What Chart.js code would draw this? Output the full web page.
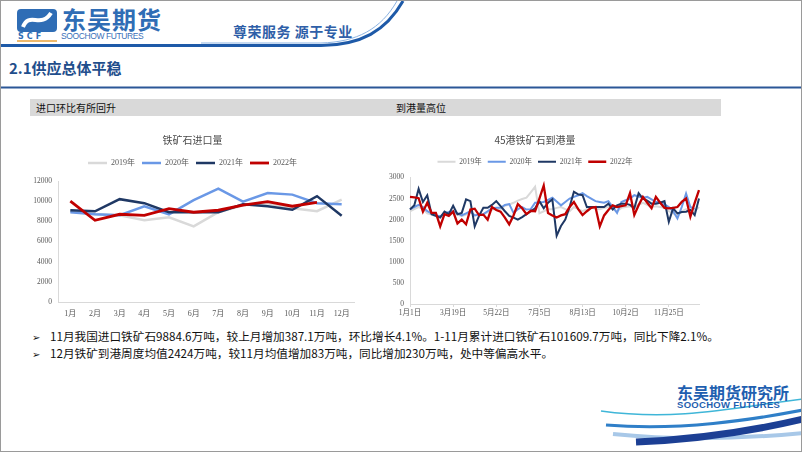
<!DOCTYPE html>
<html><head><meta charset="utf-8">
<script src="https://cdn.jsdelivr.net/npm/chart.js@4.4.0/dist/chart.umd.min.js"></script>
<style>
body{margin:0;background:#fff;}
#slide{position:relative;width:802px;height:452px;overflow:hidden;background:#fff;font-family:'Noto Sans CJK SC',sans-serif;box-sizing:border-box;border:1px solid #9a9a9a;}
.abs{position:absolute;white-space:nowrap;}
.bar{position:absolute;left:29px;top:98px;width:691px;height:17px;background:#D9D9D9;}
.bartxt{position:absolute;top:98px;font-size:10px;line-height:17px;color:#111;}
.bul{position:absolute;left:31px;font-size:11.65px;line-height:16px;color:#111;}
.bul span.m{font-family:'DejaVu Sans';font-size:10px;display:inline-block;width:18px;}
canvas{display:block;}
</style></head><body>
<div id="slide">
<svg class="abs" style="left:0;top:0" width="802" height="452">
  <path d="M0,44.5 L320,44.5 C360,44 385,30 402,0" stroke="#1E5AA8" stroke-width="3" fill="none"/>
  <path d="M200,42 L320,42 C356,41 380,28 396,0" stroke="#8DB4E2" stroke-width="1" fill="none"/>
  <line x1="0" y1="86.5" x2="802" y2="86.5" stroke="#2B5797" stroke-width="2"/>
  <rect x="16" y="8" width="40" height="23" rx="4" fill="#2F6DB5"/>
  <path d="M22,26 C28,10 40,28 50,12" stroke="#fff" stroke-width="4" fill="none"/>
  <text x="17" y="38" font-size="8" font-weight="bold" fill="#2F6DB5" font-family="DejaVu Sans" letter-spacing="3">SCF</text>
  <line x1="16" y1="40" x2="56" y2="40" stroke="#E8A23A" stroke-width="1.5"/>
  <path d="M600,410 C680,421 740,405 802,398" stroke="#3FB6D8" stroke-width="1.5" fill="none"/>
  <path d="M605,424 C680,430 750,419 802,409" stroke="#2F7FC8" stroke-width="3" fill="none"/>
  <path d="M612,433 C690,441 760,436 802,432" stroke="#A8C8E8" stroke-width="4" fill="none"/>
  <path d="M635,441 C705,438 760,428 802,418" stroke="#1C3F94" stroke-width="7" fill="none"/>
</svg>
<div class="abs" style="left:61px;top:3px;font-size:24px;font-weight:bold;color:#2F6DB5;line-height:30px;letter-spacing:1px;">东吴期货</div>
<div class="abs" style="left:60px;top:30px;font-size:8.5px;color:#3B70B8;font-family:'Liberation Sans';letter-spacing:-0.4px;line-height:10px;">SOOCHOW FUTURES</div>
<div class="abs" style="left:232px;top:21px;font-size:14px;font-weight:bold;color:#2F5FA8;line-height:18px;letter-spacing:0.5px;">尊荣服务 源于专业</div>
<div class="abs" style="left:8px;top:57px;font-size:15px;font-weight:bold;color:#1F4E8C;line-height:20px;">2.1供应总体平稳</div>
<div class="bar"></div>
<div class="bartxt" style="left:35px;">进口环比有所回升</div>
<div class="bartxt" style="left:395px;">到港量高位</div>
<div class="abs" style="left:30px;top:126px;width:335px;height:193px;"><canvas id="c1"></canvas></div>
<div class="abs" style="left:370px;top:126px;width:340px;height:195px;"><canvas id="c2"></canvas></div>
<div class="bul" style="top:327px;"><span class="m">➢</span>11月我国进口铁矿石9884.6万吨，较上月增加387.1万吨，环比增长4.1%。1-11月累计进口铁矿石101609.7万吨，同比下降2.1%。</div>
<div class="bul" style="top:344px;"><span class="m">➢</span>12月铁矿到港周度均值2424万吨，较11月均值增加83万吨，同比增加230万吨，处中等偏高水平。</div>
<div class="abs" style="left:676px;top:382px;font-size:16px;font-weight:bold;color:#1F5FB0;line-height:18px;">东吴期货研究所</div>
<div class="abs" style="left:676px;top:399px;font-size:9.5px;font-weight:bold;color:#1F5FB0;font-family:'Liberation Sans';line-height:10px;letter-spacing:0.3px;">SOOCHOW FUTURES</div>
</div>
<script>
// ---- Data ----
const seriesNames = ['2019年', '2020年', '2021年', '2022年'];
const months = ['1月','2月','3月','4月','5月','6月','7月','8月','9月','10月','11月','12月'];
const import2019 = [9000, 8700, 8600, 8100, 8400, 7500, 8900, 9600, 9800, 9300, 9000, 10150];
const import2020 = [8900, 8700, 8600, 9500, 8700, 10100, 11250, 9950, 10800, 10650, 9800, 9700];
const import2021 = [9100, 9000, 10200, 9800, 8900, 8900, 8900, 9700, 9500, 9150, 10500, 8550];
const import2022 = [10000, 8100, 8700, 8600, 9250, 8900, 9100, 9600, 9950, 9500, 9885, null];

const portTickLabels = ['1月1日','3月19日','5月22日','7月5日','8月13日','10月2日','11月25日'];
const port2019 = [2200,2250,2300,2250,2150,2120,2080,2060,2120,2150,2180,2120,2080,2120,2180,2100,2120,2120,2180,2240,2260,2250,2330,2360,2400,2450,2490,2520,2650,2780,2150,2200,2250,2250,2280,2300,2250,2200,2300,2250,2200,2250,2280,2260,2250,2280,2300,2250,2200,2280,2300,2320,2300,2350,2400,2350,2300,2320,2300,2280,2200,2150,2100,2200,2250,2150,2200,2300];
const port2020 = [2250,2300,2350,2300,2200,2150,2100,2080,2150,2180,2200,2150,2100,2150,2200,2100,2120,2130,2200,2270,2280,2280,2350,2370,2160,2250,2300,2240,2250,2400,2410,2420,2470,2520,2430,2340,2420,2500,2540,2580,2630,2560,2500,2440,2420,2400,2440,2300,2160,2420,2460,2500,2580,2550,2520,2540,2480,2420,2420,2360,2300,2200,2030,2300,2620,2300,2250,null];
const port2021 = [2240,2340,2730,2420,2580,2130,2090,2050,2190,2130,2330,2130,2160,2480,2440,1840,2090,2280,2280,2350,2440,2320,2200,2090,2050,2000,2060,2130,2200,2270,2440,2270,2400,2480,1620,1850,2000,2300,2660,2600,2580,2300,2300,2300,2300,2300,2380,2240,2340,2380,2380,2350,2270,2630,2500,2450,2380,2380,2400,2440,1950,2270,2150,2180,2190,2230,2110,2500];
const port2022 = [2540,2530,2510,2190,2400,2160,2160,1840,2130,2090,2190,1910,2000,1890,2240,2260,2110,2120,2000,2300,2230,2190,2050,1890,2100,2370,2270,2130,2210,2200,2500,2810,2160,2100,2050,2100,2130,2300,2420,2250,2110,2200,2280,2300,1840,2100,2230,2340,2300,2320,2340,2630,2110,2340,2540,2400,2270,2540,2400,2280,2270,2280,2300,2420,2500,2070,2400,2700];
const portWeeks = port2022.map((_, i) => i);

const colors = ['#D9D9D9', '#6A98E6', '#1F3864', '#C00000'];
const serif = "'Liberation Serif', 'Noto Sans CJK SC', serif";

// extra space under legend
const legendGap = {
  id: 'legendGap',
  beforeInit(chart, args, opts) {
    const fit = chart.legend.fit;
    chart.legend.fit = function () { fit.bind(chart.legend)(); this.height += opts.gap || 0; };
  }
};

function makeDatasets(arrs, widths) {
  return arrs.map((d, i) => ({
    label: seriesNames[i], data: d, borderColor: colors[i], backgroundColor: colors[i],
    borderWidth: widths[i], pointRadius: 0, tension: 0, fill: false, order: 3 - i
  }));
}

function commonOpts(title, legendOpts, yMax, yStep, yWidth, padding, gap) {
  return {
    responsive: true, maintainAspectRatio: false, animation: false, devicePixelRatio: 1,
    layout: { padding: padding },
    plugins: {
      legendGap: { gap: gap },
      title: { display: true, text: title, color: '#4a4a4a',
        font: { family: "'Noto Sans CJK SC'", size: 10, weight: 'normal' }, padding: { top: 7, bottom: 6 } },
      legend: { display: true, position: 'top',
        labels: { usePointStyle: true, pointStyle: 'line', pointStyleWidth: legendOpts.w,
          boxHeight: legendOpts.fs, color: '#595959', padding: legendOpts.pad,
          font: { family: serif, size: legendOpts.fs },
          sort: (a, b) => a.datasetIndex - b.datasetIndex } },
      tooltip: { enabled: false }
    },
    scales: {
      y: { min: 0, max: yMax,
        ticks: { stepSize: yStep, color: '#595959', font: { family: serif, size: 7.5 }, padding: 6,
          callback: v => String(v) },
        grid: { display: false, drawTicks: false },
        border: { display: true, color: '#D9D9D9', width: 1 },
        afterFit: s => { s.width = yWidth; } },
      x: {}
    }
  };
}

const o1 = commonOpts('铁矿石进口量', { w: 19, fs: 8, pad: 7 }, 12000, 2000, 27, { left: 0, right: 12, top: 0, bottom: 2 }, 4);
o1.scales.x = { offset: true,
  ticks: { color: '#595959', font: { family: serif, size: 8 }, padding: 7, maxRotation: 0, autoSkip: false },
  grid: { display: false, drawTicks: false }, border: { display: true, color: '#D9D9D9', width: 1 },
  afterFit: s => { s.height = 16; } };
new Chart(document.getElementById('c1'), {
  type: 'line',
  data: { labels: months, datasets: makeDatasets([import2019, import2020, import2021, import2022], [2.5, 2.5, 2.5, 2.8]) },
  options: o1,
  plugins: [legendGap]
});

const o2 = commonOpts('45港铁矿石到港量', { w: 18, fs: 7.5, pad: 6 }, 3000, 500, 39, { left: 0, right: 12, top: 0, bottom: 2 }, 2);
o2.scales.x = { offset: false,
  ticks: { color: '#595959', font: { family: serif, size: 7.5 }, padding: 2, maxRotation: 0, autoSkip: false,
    callback: (v, i) => (i % 10 === 0 ? (portTickLabels[i / 10] || '') : '') },
  grid: { display: true, drawOnChartArea: false, drawTicks: true, tickLength: 3,
    color: c => (c.index % 10 === 0 ? '#D9D9D9' : 'rgba(0,0,0,0)') },
  border: { display: true, color: '#D9D9D9', width: 1 },
  afterFit: s => { s.height = 16; } };
new Chart(document.getElementById('c2'), {
  type: 'line',
  data: { labels: portWeeks, datasets: makeDatasets([port2019, port2020, port2021, port2022], [2, 2, 2, 2.3]) },
  options: o2,
  plugins: [legendGap]
});
</script>
</body></html>
